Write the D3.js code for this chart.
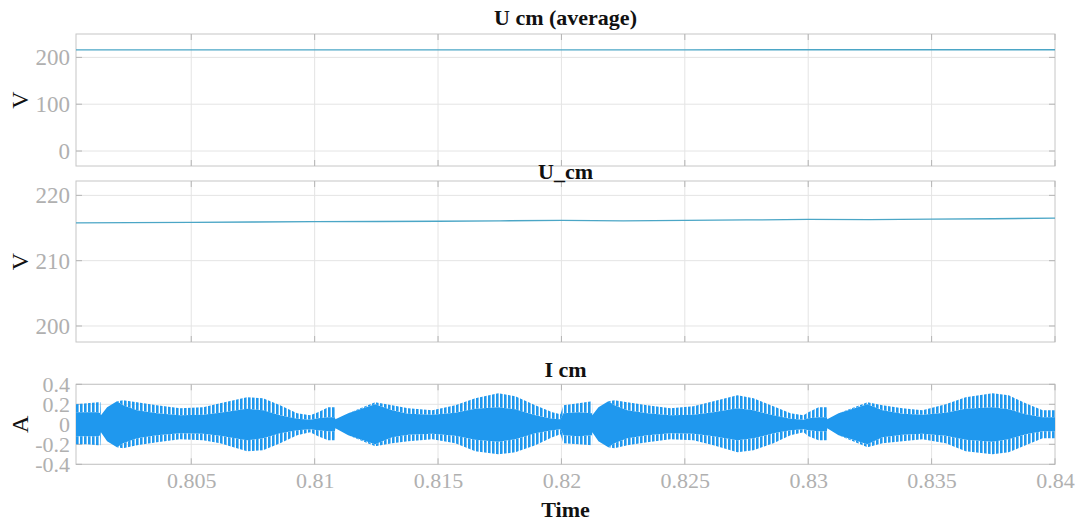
<!DOCTYPE html>
<html>
<head>
<meta charset="utf-8">
<script src="https://cdn.jsdelivr.net/npm/d3@7"></script>
<style>
body { margin: 0; background: #fff; }
svg { display: block; font-family: "Liberation Serif", "Times New Roman", serif; }
</style>
</head>
<body>
<script>
// x ticks shared by all three panels
const xTicks = [0.805, 0.81, 0.815, 0.82, 0.825, 0.83, 0.835, 0.84];

// U cm (average) and U_cm
const uTime = [0.80033, 0.8025, 0.805, 0.8075, 0.81, 0.8125, 0.815, 0.8175, 0.82, 0.8213, 0.8225, 0.825, 0.8275, 0.83, 0.8325, 0.835, 0.8375, 0.84];
const uAvg  = [216.0, 216.0, 216.0, 216.1, 216.1, 216.1, 216.1, 216.2, 216.2, 216.2, 216.2, 216.2, 216.3, 216.3, 216.3, 216.4, 216.4, 216.4];
const uCm   = [215.80, 215.82, 215.86, 215.92, 215.98, 216.00, 216.04, 216.10, 216.18, 216.12, 216.10, 216.16, 216.24, 216.32, 216.30, 216.36, 216.42, 216.52];

// I cm envelope: tips of the spikes and the solid core
const iTime = [0.80033, 0.80078, 0.80122, 0.80132, 0.80134, 0.80159, 0.80199, 0.80224, 0.80280, 0.80361,
    0.80455, 0.80548, 0.80617, 0.80726, 0.80791, 0.80860, 0.80929, 0.80982, 0.81014, 0.81055,
    0.81082, 0.81084, 0.81136, 0.81245, 0.81314, 0.81379, 0.81477, 0.81570, 0.81651, 0.81744,
    0.81813, 0.81894, 0.81963, 0.81996, 0.82008, 0.82069, 0.82124, 0.82125, 0.82150, 0.82190,
    0.82215, 0.82267, 0.82348, 0.82442, 0.82535, 0.82616, 0.82713, 0.82778, 0.82859, 0.82928,
    0.82981, 0.83001, 0.83042, 0.83076, 0.83077, 0.83123, 0.83240, 0.83301, 0.83382, 0.83463,
    0.83557, 0.83638, 0.83747, 0.83812, 0.83881, 0.83950, 0.84003];
const iTipUp = [0.20, 0.21, 0.22, 0.22, 0.09, 0.17, 0.23, 0.24, 0.22, 0.19,
    0.16, 0.17, 0.21, 0.27, 0.26, 0.19, 0.11, 0.09, 0.12, 0.17,
    0.17, 0.05, 0.11, 0.22, 0.19, 0.16, 0.14, 0.19, 0.26, 0.31,
    0.28, 0.19, 0.12, 0.10, 0.19, 0.21, 0.23, 0.09, 0.17, 0.23,
    0.24, 0.22, 0.19, 0.16, 0.18, 0.23, 0.29, 0.26, 0.18, 0.11,
    0.09, 0.12, 0.17, 0.17, 0.05, 0.11, 0.22, 0.19, 0.16, 0.14,
    0.20, 0.27, 0.31, 0.29, 0.21, 0.14, 0.14];
const iTipDown = [-0.20, -0.20, -0.21, -0.21, -0.08, -0.17, -0.23, -0.24, -0.21, -0.18,
    -0.15, -0.16, -0.19, -0.27, -0.26, -0.19, -0.11, -0.08, -0.12, -0.16,
    -0.16, -0.04, -0.11, -0.22, -0.19, -0.17, -0.15, -0.19, -0.27, -0.30,
    -0.28, -0.21, -0.13, -0.10, -0.19, -0.20, -0.21, -0.08, -0.17, -0.23,
    -0.24, -0.21, -0.18, -0.15, -0.16, -0.21, -0.28, -0.26, -0.19, -0.11,
    -0.08, -0.12, -0.16, -0.16, -0.04, -0.11, -0.23, -0.19, -0.17, -0.15,
    -0.19, -0.27, -0.30, -0.28, -0.21, -0.14, -0.14];
const iCoreUp = [0.12, 0.12, 0.12, 0.11, 0.09, 0.17, 0.23, 0.19, 0.14, 0.11,
    0.09, 0.095, 0.115, 0.155, 0.14, 0.09, 0.055, 0.045, 0.06, 0.07,
    0.07, 0.05, 0.11, 0.20, 0.14, 0.105, 0.095, 0.115, 0.155, 0.17,
    0.15, 0.09, 0.055, 0.05, 0.11, 0.12, 0.11, 0.09, 0.17, 0.23,
    0.19, 0.14, 0.11, 0.09, 0.095, 0.12, 0.16, 0.14, 0.09, 0.055,
    0.045, 0.06, 0.07, 0.07, 0.05, 0.11, 0.20, 0.14, 0.105, 0.095,
    0.115, 0.155, 0.17, 0.15, 0.10, 0.07, 0.07];
const iCoreDown = [-0.12, -0.12, -0.12, -0.11, -0.08, -0.17, -0.23, -0.19, -0.14, -0.11,
    -0.09, -0.095, -0.115, -0.16, -0.14, -0.09, -0.06, -0.05, -0.06, -0.07,
    -0.07, -0.04, -0.11, -0.20, -0.13, -0.105, -0.095, -0.115, -0.155, -0.175,
    -0.15, -0.09, -0.06, -0.05, -0.11, -0.12, -0.11, -0.08, -0.17, -0.23,
    -0.19, -0.14, -0.11, -0.09, -0.095, -0.12, -0.16, -0.14, -0.09, -0.06,
    -0.05, -0.06, -0.07, -0.07, -0.04, -0.11, -0.20, -0.13, -0.105, -0.095,
    -0.115, -0.155, -0.175, -0.15, -0.10, -0.07, -0.07];

const width = 1075, height = 521;
const left = 76, right = 1055;
const gridColor = "#e4e4e4", frameColor = "#c6c6c6", tickColor = "#b5b5b5";
const lineColor = "#4ba6c6", fillColor = "#1f98ee";

const panels = [
    {title: "U cm (average)", unit: "V", domain: [-32, 250], ticks: [0, 100, 200], top: 34, bottom: 166, titleY: 25, fs: 23},
    {title: "U_cm", unit: "V", domain: [197.55, 222.2], ticks: [200, 210, 220], top: 181, bottom: 342, titleY: 179, fs: 23},
    {title: "I cm", unit: "A", domain: [-0.4, 0.4], ticks: [-0.4, -0.2, 0, 0.2, 0.4], top: 384.3, bottom: 464.3, titleY: 377, fs: 22}
];

const x = d3.scaleLinear().domain([0.80033, 0.84]).range([left, right]);

const svg = d3.select("body").append("svg")
    .attr("width", width)
    .attr("height", height);

const defs = svg.append("defs");
defs.append("pattern")
    .attr("id", "teeth")
    .attr("patternUnits", "userSpaceOnUse")
    .attr("width", 4)
    .attr("height", 8)
  .append("rect")
    .attr("width", 2.6)
    .attr("height", 8)
    .attr("fill", fillColor);

panels.forEach((p, k) => {
    p.y = d3.scaleLinear().domain(p.domain).range([p.bottom, p.top]);
    const g = svg.append("g");

    defs.append("clipPath").attr("id", "clip" + k)
      .append("rect")
        .attr("x", left).attr("y", p.top)
        .attr("width", right - left).attr("height", p.bottom - p.top);

    // grid
    g.selectAll(".vgrid").data(xTicks.filter(d => d < 0.84)).enter().append("line")
        .attr("x1", d => x(d)).attr("x2", d => x(d))
        .attr("y1", p.top).attr("y2", p.bottom)
        .attr("stroke", gridColor);
    g.selectAll(".hgrid").data(p.ticks).enter().append("line")
        .attr("x1", left).attr("x2", right)
        .attr("y1", d => p.y(d)).attr("y2", d => p.y(d))
        .attr("stroke", gridColor);

    // frame
    g.append("rect")
        .attr("x", left).attr("y", p.top)
        .attr("width", right - left).attr("height", p.bottom - p.top)
        .attr("fill", "none").attr("stroke", frameColor);

    // inward ticks
    p.ticks.forEach(d => {
        g.append("line").attr("x1", left).attr("x2", left + 6)
            .attr("y1", p.y(d)).attr("y2", p.y(d)).attr("stroke", tickColor);
        g.append("line").attr("x1", right - 6).attr("x2", right)
            .attr("y1", p.y(d)).attr("y2", p.y(d)).attr("stroke", tickColor);
    });
    xTicks.forEach(d => {
        g.append("line").attr("x1", x(d)).attr("x2", x(d))
            .attr("y1", p.bottom).attr("y2", p.bottom - 6).attr("stroke", tickColor);
        g.append("line").attr("x1", x(d)).attr("x2", x(d))
            .attr("y1", p.top).attr("y2", p.top + 6).attr("stroke", tickColor);
    });

    // y tick labels
    const yAxis = d3.axisLeft(p.y).tickValues(p.ticks).tickSize(0).tickPadding(6)
        .tickFormat(d => String(d));
    const ya = g.append("g").attr("transform", "translate(" + left + ",0)").call(yAxis)
        .attr("font-size", null).attr("font-family", null);
    ya.select(".domain").remove();
    ya.selectAll("text")
        .style("fill", "#b0b0b0")
        .style("font-size", p.fs + "px")
        .style("font-family", "'Liberation Serif', serif");

    // unit label
    g.append("text")
        .attr("transform", "translate(28," + (p.top + p.bottom) / 2 + ") rotate(-90)")
        .attr("text-anchor", "middle")
        .style("font-size", "24px")
        .attr("fill", "#111")
        .text(p.unit);

    // title
    g.append("text")
        .attr("x", (left + right) / 2)
        .attr("y", p.titleY)
        .attr("text-anchor", "middle")
        .style("font-size", "22px")
        .attr("font-weight", "bold")
        .attr("fill", "#111")
        .text(p.title);

    p.g = g.append("g").attr("clip-path", "url(#clip" + k + ")");
});

// U cm (average)
const pa = panels[0];
pa.g.append("path")
    .datum(uTime.map((t, i) => [t, uAvg[i]]))
    .attr("fill", "none")
    .attr("stroke", lineColor)
    .attr("stroke-width", 1.3)
    .attr("d", d3.line().x(d => x(d[0])).y(d => pa.y(d[1])));

// U_cm
const pb = panels[1];
pb.g.append("path")
    .datum(uTime.map((t, i) => [t, uCm[i]]))
    .attr("fill", "none")
    .attr("stroke", lineColor)
    .attr("stroke-width", 1.3)
    .attr("d", d3.line().x(d => x(d[0])).y(d => pb.y(d[1])));

// I cm
const pc = panels[2];
const iData = iTime.map((t, i) => ({
    t: t, tipUp: iTipUp[i], tipDown: iTipDown[i], coreUp: iCoreUp[i], coreDown: iCoreDown[i]
}));

pc.g.append("path")
    .datum(iData)
    .attr("fill", "url(#teeth)")
    .attr("d", d3.area().x(d => x(d.t)).y0(d => pc.y(d.coreUp)).y1(d => pc.y(d.tipUp)));
pc.g.append("path")
    .datum(iData)
    .attr("fill", "url(#teeth)")
    .attr("d", d3.area().x(d => x(d.t)).y0(d => pc.y(d.tipDown)).y1(d => pc.y(d.coreDown)));
pc.g.append("path")
    .datum(iData)
    .attr("fill", fillColor)
    .attr("d", d3.area().x(d => x(d.t)).y0(d => pc.y(d.coreDown)).y1(d => pc.y(d.coreUp)));

// x tick labels under the last panel
const xAxis = d3.axisBottom(x).tickValues(xTicks).tickSize(0).tickPadding(8)
    .tickFormat(d => String(d));
const xa = svg.append("g").attr("transform", "translate(0," + pc.bottom + ")").call(xAxis)
    .attr("font-size", null).attr("font-family", null);
xa.select(".domain").remove();
xa.selectAll("text")
    .style("fill", "#b0b0b0")
    .style("font-size", "22px")
    .style("font-family", "'Liberation Serif', serif");

svg.append("text")
    .attr("x", (left + right) / 2)
    .attr("y", 517)
    .attr("text-anchor", "middle")
    .style("font-size", "22px")
    .attr("font-weight", "bold")
    .attr("fill", "#111")
    .text("Time");
</script>
</body>
</html>
